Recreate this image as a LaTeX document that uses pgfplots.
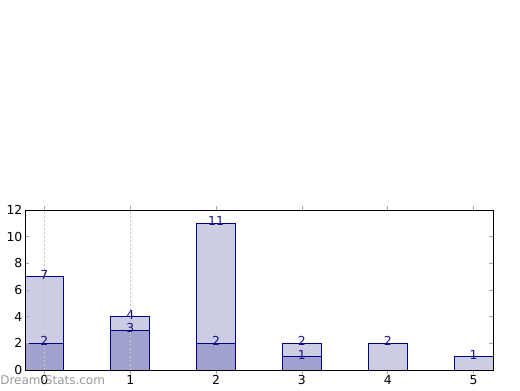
\documentclass[border=0pt]{standalone}
\usepackage{pgfplots}
\pgfplotsset{compat=1.18}
\usepackage{fontspec}
\setmainfont{DejaVu Sans}
\definecolor{lightbar}{RGB}{204,204,228}
\definecolor{darkbar}{RGB}{162,162,206}
\definecolor{edge}{RGB}{0,0,128}
\definecolor{lab}{RGB}{20,20,140}
\begin{document}
\begin{tikzpicture}
\useasboundingbox (0,0) rectangle (390pt,292.5pt);
\begin{axis}[
  at={(18.75pt,15pt)}, anchor=south west,
  width=351pt, height=120pt, scale only axis,
  axis on top,
  xmin=-0.225, xmax=5.225, ymin=0, ymax=12,
  xtick={0,1,2,3,4,5}, ytick={0,2,4,6,8,10,12},
  tick align=inside, tick pos=both,
  major tick length=3pt,
  tick style={gray!70, line width=0.6pt},
  axis line style={black, line width=0.6pt},
  ticklabel style={font=\fontsize{9.3}{10}\selectfont, black},
  xticklabel style={yshift=2.2pt},
  yticklabel style={xshift=1.5pt},
  /pgf/number format/assume math mode=true,
  extra x ticks={0,1}, extra x tick labels={},
  extra x tick style={grid=major, major grid style={gray!45, dash pattern=on 1.5pt off 1.5pt, line width=0.8pt}, major tick length=0pt},
  ybar, bar width=0.45, bar shift=0pt,
  nodes near coords,
  every node near coord/.append style={font=\fontsize{9.3}{10}\selectfont, text=lab, anchor=center, yshift=1.5pt},
]
\addplot[fill=lightbar, draw=edge, line width=0.6pt] coordinates {(0,7) (1,4) (2,11) (3,2) (4,2) (5,1)};
\addplot[fill=darkbar, draw=edge, line width=0.6pt] coordinates {(0,2) (1,3) (2,2) (3,1)};
\end{axis}
\node[anchor=west, text=gray!80, font=\fontsize{9}{10}\selectfont, inner sep=0pt] at (0,7.5pt) {Dream-Stats.com};
\end{tikzpicture}
\end{document}
